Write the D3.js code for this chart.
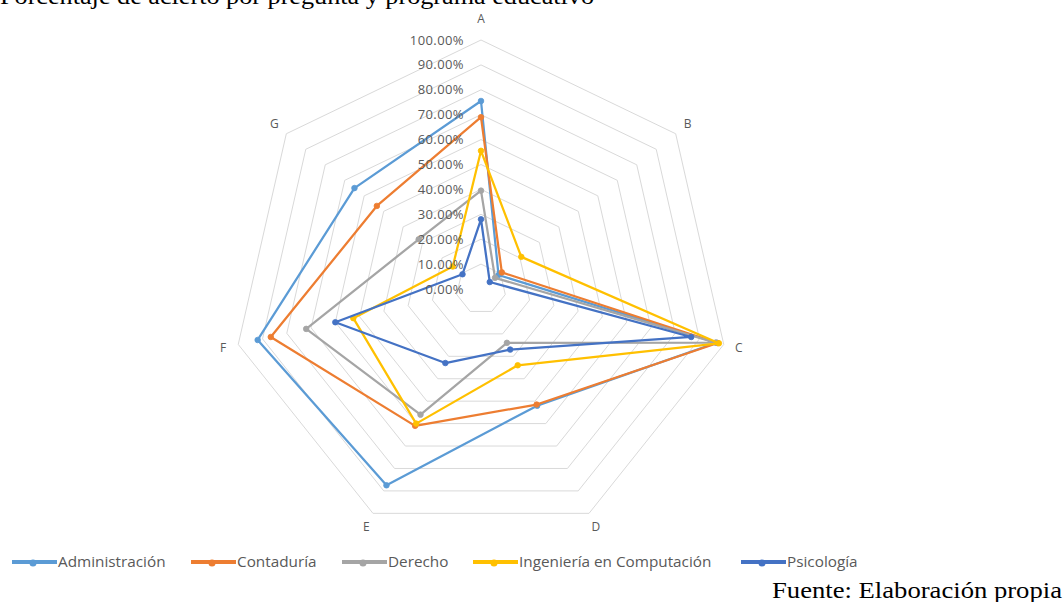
<!DOCTYPE html>
<html>
<head>
<meta charset="utf-8">
<script src="https://cdn.jsdelivr.net/npm/d3@7"></script>
<style>
	body { margin: 0; background: #fff; }
	svg { display: block; }
</style>
</head>
<body>
<div id="chart"></div>
<script>
// categories (questions)
var axesNames = ['A', 'B', 'C', 'D', 'E', 'F', 'G'];
// radial tick values
var tickValues = [0, 0.1, 0.2, 0.3, 0.4, 0.5, 0.6, 0.7, 0.8, 0.9, 1.0];

// series: percentage of right answers per question
var administracion = [0.755, 0.09, 0.97, 0.52, 0.875, 0.92, 0.65];
var contaduria     = [0.69, 0.107, 0.975, 0.515, 0.61, 0.866, 0.535];
var derecho        = [0.395, 0.072, 0.967, 0.24, 0.56, 0.72, 0.32];
var ingenieria     = [0.555, 0.207, 0.98, 0.34, 0.60, 0.526, 0.145];
var psicologia     = [0.28, 0.045, 0.866, 0.27, 0.33, 0.60, 0.095];

var seriesNames  = ['Administración', 'Contaduría', 'Derecho', 'Ingeniería en Computación', 'Psicología'];
var seriesColors = ['#5B9BD5', '#ED7D31', '#A5A5A5', '#FFC000', '#4472C4'];

var series = [administracion, contaduria, derecho, ingenieria, psicologia].map(function(v, i) {
	return { name: seriesNames[i], color: seriesColors[i], values: v };
});

var width = 1064, height = 602;
var cx = 481, cy = 289, radius = 249;

var svg = d3.select('#chart').append('svg')
	.attr('width', width)
	.attr('height', height);

// title (cut off at the top as in the source document)
svg.append('text')
	.attr('x', 0)
	.attr('y', 4)
	.attr('font-family', 'Liberation Serif, Times New Roman, serif')
	.attr('font-size', 24)
	.attr('textLength', 594)
	.attr('lengthAdjust', 'spacingAndGlyphs')
	.attr('fill', '#000')
	.text('Porcentaje de acierto por pregunta y programa educativo');

var vis = svg.append('g')
	.attr('transform', 'translate(' + cx + ',' + cy + ')');

var rScale = d3.scaleLinear().domain([0, 1]).range([0, radius]);
var angle = d3.scalePoint().domain(axesNames).range([0, 2 * Math.PI * (axesNames.length - 1) / axesNames.length]);

function pt(name, v) {
	var a = angle(name);
	return [Math.sin(a) * rScale(v), -Math.cos(a) * rScale(v)];
}

// grid heptagons
vis.append('g')
	.selectAll('path')
	.data(tickValues.filter(function(t) { return t > 0; }))
	.enter().append('path')
	.attr('d', function(t) {
		return d3.line()(axesNames.map(function(n) { return pt(n, t); })) + 'Z';
	})
	.attr('fill', 'none')
	.attr('stroke', '#d9d9d9')
	.attr('stroke-width', 1);

// category labels
function labelPos(n) { return pt(n, n === 'A' ? 1.085 : 1.062); }
vis.append('g')
	.selectAll('text')
	.data(axesNames)
	.enter().append('text')
	.attr('x', function(n) { return labelPos(n)[0]; })
	.attr('y', function(n) { return labelPos(n)[1]; })
	.attr('dy', '0.35em')
	.attr('text-anchor', 'middle')
	.attr('font-family', 'Open Sans, sans-serif')
	.attr('font-size', 12)
	.attr('fill', '#595959')
	.text(function(n) { return n; });

// series lines
var line = d3.line()
	.x(function(d) { return pt(d.name, d.v)[0]; })
	.y(function(d) { return pt(d.name, d.v)[1]; });

var serie = vis.append('g')
	.selectAll('g')
	.data(series)
	.enter().append('g');

serie.append('path')
	.attr('d', function(s) {
		return line(s.values.map(function(v, i) { return { name: axesNames[i], v: v }; })) + 'Z';
	})
	.attr('fill', 'none')
	.attr('stroke', function(s) { return s.color; })
	.attr('stroke-width', 2.25)
	.attr('stroke-linejoin', 'round');

serie.selectAll('circle')
	.data(function(s) { return s.values.map(function(v, i) { return { name: axesNames[i], v: v, color: s.color }; }); })
	.enter().append('circle')
	.attr('cx', function(d) { return pt(d.name, d.v)[0]; })
	.attr('cy', function(d) { return pt(d.name, d.v)[1]; })
	.attr('r', 2.8)
	.attr('fill', function(d) { return d.color; })
	.attr('stroke', function(d) { return d.color; })
	.attr('stroke-width', 0.8);

// radial tick labels
var fmt = d3.format('.2%');
vis.append('g')
	.selectAll('text')
	.data(tickValues)
	.enter().append('text')
	.attr('x', -17)
	.attr('y', function(t) { return -rScale(t); })
	.attr('dy', '0.35em')
	.attr('text-anchor', 'end')
	.attr('font-family', 'Open Sans, sans-serif')
	.attr('font-size', 13)
	.attr('letter-spacing', 0.4)
	.attr('fill', '#595959')
	.text(function(t) { return fmt(t); });

// legend
var legendX = [12, 191, 342, 473, 741];
var legend = svg.append('g')
	.selectAll('g')
	.data(series)
	.enter().append('g')
	.attr('transform', function(s, i) { return 'translate(' + legendX[i] + ',562)'; });

legend.append('line')
	.attr('x1', 0).attr('x2', 45)
	.attr('stroke', function(s) { return s.color; })
	.attr('stroke-width', 4);
legend.append('circle')
	.attr('cx', 21).attr('cy', 1).attr('r', 3.5)
	.attr('fill', function(s) { return s.color; });
legend.append('text')
	.attr('x', 46)
	.attr('dy', '0.35em')
	.attr('font-family', 'Open Sans, sans-serif')
	.attr('font-size', 15.3)
	.attr('fill', '#595959')
	.text(function(s) { return s.name; });

// source note
svg.append('text')
	.attr('x', 1062)
	.attr('y', 598)
	.attr('text-anchor', 'end')
	.attr('font-family', 'Liberation Serif, Times New Roman, serif')
	.attr('font-size', 23.5)
	.attr('textLength', 290)
	.attr('lengthAdjust', 'spacingAndGlyphs')
	.attr('fill', '#000')
	.text('Fuente: Elaboración propia');
</script>
</body>
</html>
